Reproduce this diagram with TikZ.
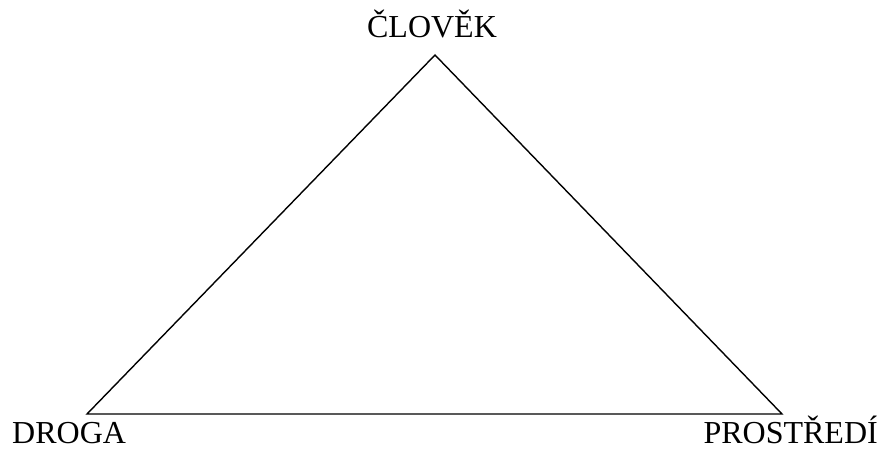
\documentclass[tikz,border=0pt]{standalone}
\usepackage{fontspec}
\setmainfont{Liberation Serif}
\begin{document}
\begin{tikzpicture}[x=1pt,y=-1pt,
  lbl/.style={inner sep=0pt,font=\fontsize{32}{37}\selectfont},
  edge/.style={line width=1.4pt,line join=miter}]
\useasboundingbox (0,0) rectangle (887,452);
\coordinate (top) at (435,55);
\coordinate (left) at (87,414);
\coordinate (right) at (782,414);
\node[lbl,anchor=base] (clovek) at (432,38) {ČLOVĚK};
\node[lbl,anchor=base west] (droga) at (12,443) {DROGA};
\node[lbl,anchor=base east] (prostredi) at (878,443) {PROSTŘEDÍ};
\draw[edge] (top) -- (right) -- (left) -- cycle;
\end{tikzpicture}
\end{document}
